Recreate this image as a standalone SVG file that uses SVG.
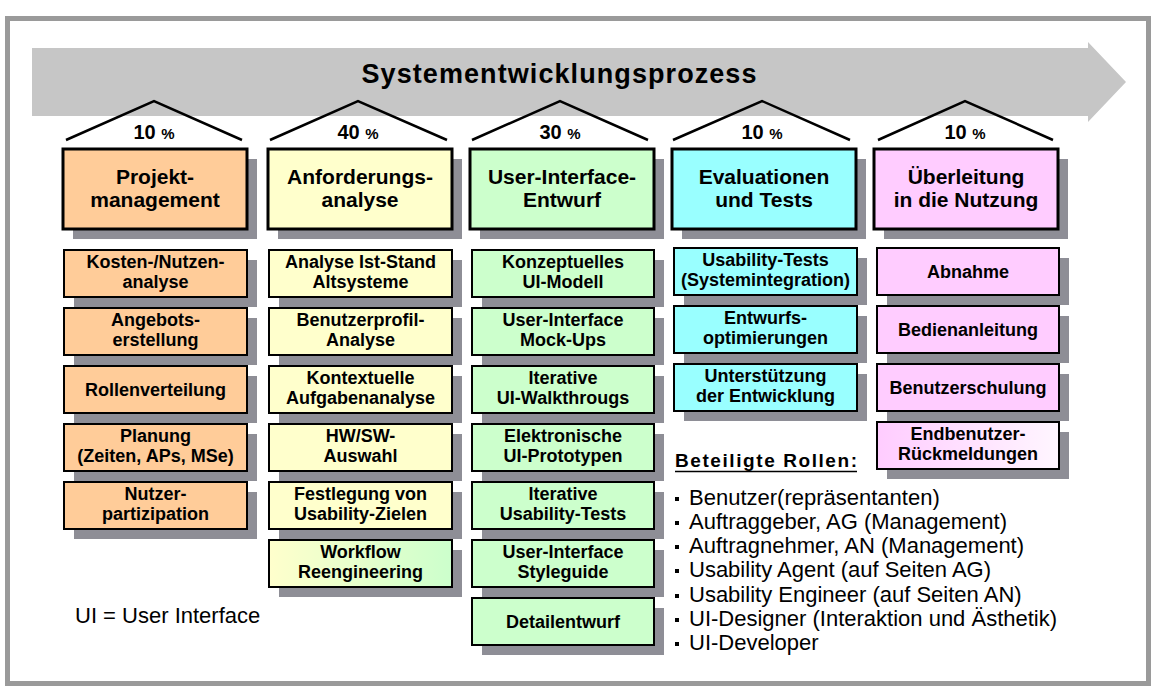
<svg xmlns="http://www.w3.org/2000/svg" width="1151" height="686" viewBox="0 0 1151 686">
<style>
.frame{fill:#fff;stroke:#9a9a9a;stroke-width:5}
.band{fill:#c6c6c6}
.roof{fill:none;stroke:#000;stroke-width:2.5;stroke-linejoin:miter}
.shd{fill:#8e8e96}
.hdr{stroke:#000;stroke-width:3}
.sub{stroke:#000;stroke-width:2}
.ht{font-family:"Liberation Sans",Arial,sans-serif;font-weight:bold;font-size:21px;text-anchor:middle;fill:#000}
.st{font-family:"Liberation Sans",Arial,sans-serif;font-weight:bold;font-size:18px;text-anchor:middle;fill:#000}
.pct{font-family:"Liberation Sans",Arial,sans-serif;font-weight:bold;font-size:20px;text-anchor:middle;fill:#000}
.title{font-family:"Liberation Sans",Arial,sans-serif;font-weight:bold;font-size:27px;text-anchor:middle;fill:#000}
.reg{font-family:"Liberation Sans",Arial,sans-serif;font-size:22px;fill:#000}
.c1{fill:#ffcc99}.c2{fill:#ffffcc}.c3{fill:#ccffcc}.c4{fill:#99ffff}.c5{fill:#ffccff}
</style>
<defs>
<linearGradient id="gYG" x1="0" y1="0" x2="1" y2="0"><stop offset="0" stop-color="#ffffcc"/><stop offset="1" stop-color="#ccffcc"/></linearGradient>
<linearGradient id="gPW" x1="0" y1="0" x2="1" y2="0"><stop offset="0" stop-color="#ffccff"/><stop offset="1" stop-color="#fff6ff"/></linearGradient>
</defs>
<rect class="frame" x="7.5" y="18.5" width="1141" height="665"/>
<g id="process-arrow">
<polygon class="band" points="32,48 1088,48 1088,42 1126,82 1088,122 1088,116 32,116"/>
<text class="title" x="559" y="83" textLength="395" lengthAdjust="spacing">Systementwicklungsprozess</text>
</g>
<g id="roofs">
<polyline class="roof" points="66,140 154,101 242,140"/>
<polyline class="roof" points="270,140 358,101 447,140"/>
<polyline class="roof" points="472,140 560,101 648,140"/>
<polyline class="roof" points="673,140 762,101 850,140"/>
<polyline class="roof" points="878,140 965,101 1053,140"/>
<text class="pct" x="154" y="139">10 <tspan font-size="15px">%</tspan></text>
<text class="pct" x="358" y="139">40 <tspan font-size="15px">%</tspan></text>
<text class="pct" x="560" y="139">30 <tspan font-size="15px">%</tspan></text>
<text class="pct" x="762" y="139">10 <tspan font-size="15px">%</tspan></text>
<text class="pct" x="965" y="139">10 <tspan font-size="15px">%</tspan></text>
</g>
<g id="connectors"></g>
<g id="h1"><rect class="shd" x="73" y="159" width="184" height="80"/><rect class="hdr c1" x="63" y="149" width="184" height="80"/><text class="ht" x="155" y="184">Projekt-</text><text class="ht" x="155" y="207">management</text></g>
<g id="h2"><rect class="shd" x="278" y="159" width="184" height="80"/><rect class="hdr c2" x="268" y="149" width="184" height="80"/><text class="ht" x="360" y="184">Anforderungs-</text><text class="ht" x="360" y="207">analyse</text></g>
<g id="h3"><rect class="shd" x="480" y="159" width="184" height="80"/><rect class="hdr c3" x="470" y="149" width="184" height="80"/><text class="ht" x="562" y="184">User-Interface-</text><text class="ht" x="562" y="207">Entwurf</text></g>
<g id="h4"><rect class="shd" x="682" y="159" width="184" height="80"/><rect class="hdr c4" x="672" y="149" width="184" height="80"/><text class="ht" x="764" y="184">Evaluationen</text><text class="ht" x="764" y="207">und Tests</text></g>
<g id="h5"><rect class="shd" x="884" y="159" width="184" height="80"/><rect class="hdr c5" x="874" y="149" width="184" height="80"/><text class="ht" x="966" y="184">Überleitung</text><text class="ht" x="966" y="207">in die Nutzung</text></g>

<g id="s1a"><rect class="shd" x="74" y="260" width="183" height="47"/><rect class="sub c1" x="64" y="250" width="183" height="47"/><text class="st" x="155.5" y="268">Kosten-/Nutzen-</text><text class="st" x="155.5" y="288">analyse</text></g>
<g id="s1b"><rect class="shd" x="74" y="318" width="183" height="47"/><rect class="sub c1" x="64" y="308" width="183" height="47"/><text class="st" x="155.5" y="326">Angebots-</text><text class="st" x="155.5" y="346">erstellung</text></g>
<g id="s1c"><rect class="shd" x="74" y="376" width="183" height="47"/><rect class="sub c1" x="64" y="366" width="183" height="47"/><text class="st" x="155.5" y="396">Rollenverteilung</text></g>
<g id="s1d"><rect class="shd" x="74" y="434" width="183" height="47"/><rect class="sub c1" x="64" y="424" width="183" height="47"/><text class="st" x="155.5" y="442">Planung</text><text class="st" x="155.5" y="462">(Zeiten, APs, MSe)</text></g>
<g id="s1e"><rect class="shd" x="74" y="492" width="183" height="47"/><rect class="sub c1" x="64" y="482" width="183" height="47"/><text class="st" x="155.5" y="500">Nutzer-</text><text class="st" x="155.5" y="520">partizipation</text></g>

<g id="s2a"><rect class="shd" x="279" y="260" width="183" height="47"/><rect class="sub c2" x="269" y="250" width="183" height="47"/><text class="st" x="360.5" y="268">Analyse Ist-Stand</text><text class="st" x="360.5" y="288">Altsysteme</text></g>
<g id="s2b"><rect class="shd" x="279" y="318" width="183" height="47"/><rect class="sub c2" x="269" y="308" width="183" height="47"/><text class="st" x="360.5" y="326">Benutzerprofil-</text><text class="st" x="360.5" y="346">Analyse</text></g>
<g id="s2c"><rect class="shd" x="279" y="376" width="183" height="47"/><rect class="sub c2" x="269" y="366" width="183" height="47"/><text class="st" x="360.5" y="384">Kontextuelle</text><text class="st" x="360.5" y="404">Aufgabenanalyse</text></g>
<g id="s2d"><rect class="shd" x="279" y="434" width="183" height="47"/><rect class="sub c2" x="269" y="424" width="183" height="47"/><text class="st" x="360.5" y="442">HW/SW-</text><text class="st" x="360.5" y="462">Auswahl</text></g>
<g id="s2e"><rect class="shd" x="279" y="492" width="183" height="47"/><rect class="sub c2" x="269" y="482" width="183" height="47"/><text class="st" x="360.5" y="500">Festlegung von</text><text class="st" x="360.5" y="520">Usability-Zielen</text></g>
<g id="s2f"><rect class="shd" x="279" y="550" width="183" height="47"/><rect class="sub" fill="url(#gYG)" x="269" y="540" width="183" height="47"/><text class="st" x="360.5" y="558">Workflow</text><text class="st" x="360.5" y="578">Reengineering</text></g>

<g id="s3a"><rect class="shd" x="482" y="260" width="182" height="47"/><rect class="sub c3" x="472" y="250" width="182" height="47"/><text class="st" x="563" y="268">Konzeptuelles</text><text class="st" x="563" y="288">UI-Modell</text></g>
<g id="s3b"><rect class="shd" x="482" y="318" width="182" height="47"/><rect class="sub c3" x="472" y="308" width="182" height="47"/><text class="st" x="563" y="326">User-Interface</text><text class="st" x="563" y="346">Mock-Ups</text></g>
<g id="s3c"><rect class="shd" x="482" y="376" width="182" height="47"/><rect class="sub c3" x="472" y="366" width="182" height="47"/><text class="st" x="563" y="384">Iterative</text><text class="st" x="563" y="404">UI-Walkthrougs</text></g>
<g id="s3d"><rect class="shd" x="482" y="434" width="182" height="47"/><rect class="sub c3" x="472" y="424" width="182" height="47"/><text class="st" x="563" y="442">Elektronische</text><text class="st" x="563" y="462">UI-Prototypen</text></g>
<g id="s3e"><rect class="shd" x="482" y="492" width="182" height="47"/><rect class="sub c3" x="472" y="482" width="182" height="47"/><text class="st" x="563" y="500">Iterative</text><text class="st" x="563" y="520">Usability-Tests</text></g>
<g id="s3f"><rect class="shd" x="482" y="550" width="182" height="47"/><rect class="sub c3" x="472" y="540" width="182" height="47"/><text class="st" x="563" y="558">User-Interface</text><text class="st" x="563" y="578">Styleguide</text></g>
<g id="s3g"><rect class="shd" x="482" y="608" width="182" height="47"/><rect class="sub c3" x="472" y="598" width="182" height="47"/><text class="st" x="563" y="628">Detailentwurf</text></g>

<g id="s4a"><rect class="shd" x="684" y="258" width="183" height="47"/><rect class="sub c4" x="674" y="248" width="183" height="47"/><text class="st" x="765.5" y="266">Usability-Tests</text><text class="st" x="765.5" y="286">(Systemintegration)</text></g>
<g id="s4b"><rect class="shd" x="684" y="316" width="183" height="47"/><rect class="sub c4" x="674" y="306" width="183" height="47"/><text class="st" x="765.5" y="324">Entwurfs-</text><text class="st" x="765.5" y="344">optimierungen</text></g>
<g id="s4c"><rect class="shd" x="684" y="374" width="183" height="47"/><rect class="sub c4" x="674" y="364" width="183" height="47"/><text class="st" x="765.5" y="382">Unterstützung</text><text class="st" x="765.5" y="402">der Entwicklung</text></g>

<g id="s5a"><rect class="shd" x="887" y="258" width="182" height="47"/><rect class="sub c5" x="877" y="248" width="182" height="47"/><text class="st" x="968" y="278">Abnahme</text></g>
<g id="s5b"><rect class="shd" x="887" y="316" width="182" height="47"/><rect class="sub c5" x="877" y="306" width="182" height="47"/><text class="st" x="968" y="336">Bedienanleitung</text></g>
<g id="s5c"><rect class="shd" x="887" y="374" width="182" height="47"/><rect class="sub c5" x="877" y="364" width="182" height="47"/><text class="st" x="968" y="394">Benutzerschulung</text></g>
<g id="s5d"><rect class="shd" x="887" y="432" width="182" height="47"/><rect class="sub" fill="url(#gPW)" x="877" y="422" width="182" height="47"/><text class="st" x="968" y="440">Endbenutzer-</text><text class="st" x="968" y="460">Rückmeldungen</text></g>

<g id="legend">
<text class="reg" x="75" y="623" font-size="21px">UI = User Interface</text>
</g>
<g id="roles">
<text x="675" y="467" font-family="Liberation Sans, Arial, sans-serif" font-weight="bold" font-size="19px" textLength="182" lengthAdjust="spacing">Beteiligte Rollen:</text>
<line x1="675" y1="471.5" x2="857" y2="471.5" stroke="#000" stroke-width="1.5"/>
<rect x="675" y="497" width="4" height="4"/>
<rect x="675" y="521" width="4" height="4"/>
<rect x="675" y="545" width="4" height="4"/>
<rect x="675" y="569" width="4" height="4"/>
<rect x="675" y="594" width="4" height="4"/>
<rect x="675" y="618" width="4" height="4"/>
<rect x="675" y="642" width="4" height="4"/>
<text class="reg" x="689" y="505">Benutzer(repräsentanten)</text>
<text class="reg" x="689" y="529">Auftraggeber, AG (Management)</text>
<text class="reg" x="689" y="553">Auftragnehmer, AN (Management)</text>
<text class="reg" x="689" y="577">Usability Agent (auf Seiten AG)</text>
<text class="reg" x="689" y="602">Usability Engineer (auf Seiten AN)</text>
<text class="reg" x="689" y="626">UI-Designer (Interaktion und Ästhetik)</text>
<text class="reg" x="689" y="650">UI-Developer</text>
</g>
</svg>
